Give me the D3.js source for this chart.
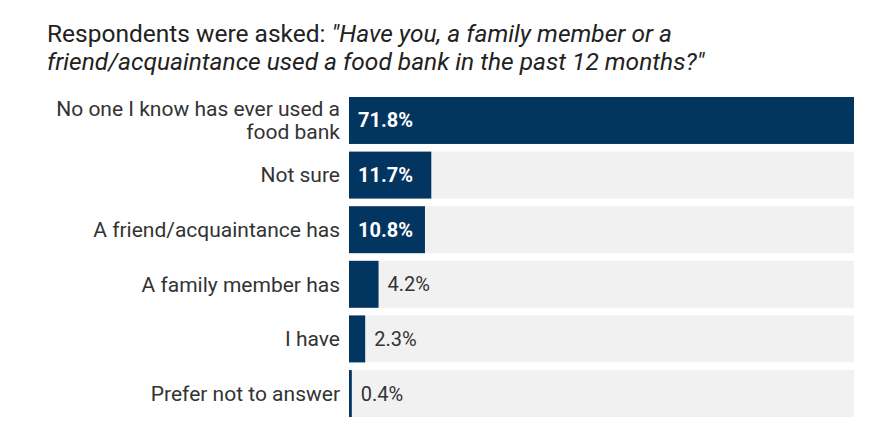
<!DOCTYPE html>
<html>
<head>
<meta charset="utf-8">
<script src="https://cdn.jsdelivr.net/npm/d3@7"></script>
<style>
  body { margin: 0; background: #fff; font-family: Roboto, sans-serif; }
</style>
</head>
<body>
<svg width="872" height="425"></svg>
<script>
var categories = [
    ["No one I know has ever used a", "food bank"],
    ["Not sure"],
    ["A friend/acquaintance has"],
    ["A family member has"],
    ["I have"],
    ["Prefer not to answer"]
];
var values = [71.8, 11.7, 10.8, 4.2, 2.3, 0.4];

function createVisualization() {
    var svg = d3.select("svg");
    var left = 349, right = 854, top = 97, bottom = 417;

    var data = values.map(function(v, i) { return { name: categories[i], value: v, key: i }; });

    var x = d3.scaleLinear().domain([0, d3.max(values)]).range([left, right]);
    var y = d3.scaleBand()
        .domain(data.map(function(d) { return d.key; }))
        .range([top, bottom])
        .paddingInner(0.14)
        .paddingOuter(0);

    // title
    var title = svg.append("text")
        .attr("x", 47)
        .attr("y", 42)
        .style("font-size", "24.5px")
        .attr("fill", "#222");
    title.append("tspan").text("Respondents were asked: ");
    title.append("tspan").style("font-style", "italic").text("\"Have you, a family member or a");
    svg.append("text")
        .attr("x", 47)
        .attr("y", 70)
        .style("font-size", "24.5px")
        .style("font-style", "italic")
        .attr("fill", "#222")
        .text("friend/acquaintance used a food bank in the past 12 months?\"");

    var row = svg.append("g").selectAll("g")
        .data(data)
        .enter().append("g");

    // background track
    row.append("rect")
        .attr("x", x(0))
        .attr("y", function(d) { return y(d.key); })
        .attr("width", x.range()[1] - x(0))
        .attr("height", y.bandwidth())
        .attr("fill", "#f1f1f1");

    row.append("rect")
        .attr("x", x(0))
        .attr("y", function(d) { return y(d.key); })
        .attr("width", function(d) { return Math.max(1.5, x(d.value) - x(0)); })
        .attr("height", y.bandwidth())
        .attr("fill", "#033561");

    // category labels
    row.append("text")
        .attr("text-anchor", "end")
        .style("font-size", "21px")
        .attr("fill", "#333")
        .each(function(d) {
            var t = d3.select(this);
            var cy = y(d.key) + y.bandwidth() / 2;
            var lh = 23;
            d.name.forEach(function(line, i) {
                t.append("tspan")
                    .attr("x", 340)
                    .attr("y", cy + (i - (d.name.length - 1) / 2) * lh)
                    .attr("dy", "0.35em")
                    .text(line);
            });
        });

    // value labels
    row.append("text")
        .attr("x", function(d) { return d.value > 8 ? x(0) + 9 : x(d.value) + 9; })
        .attr("y", function(d) { return y(d.key) + y.bandwidth() / 2; })
        .attr("dy", "0.35em")
        .style("font-size", "20px")
        .style("font-weight", function(d) { return d.value > 8 ? "bold" : "normal"; })
        .attr("fill", function(d) { return d.value > 8 ? "#fff" : "#333"; })
        .text(function(d) { return d.value.toFixed(1) + "%"; });
}

createVisualization();
</script>
</body>
</html>
